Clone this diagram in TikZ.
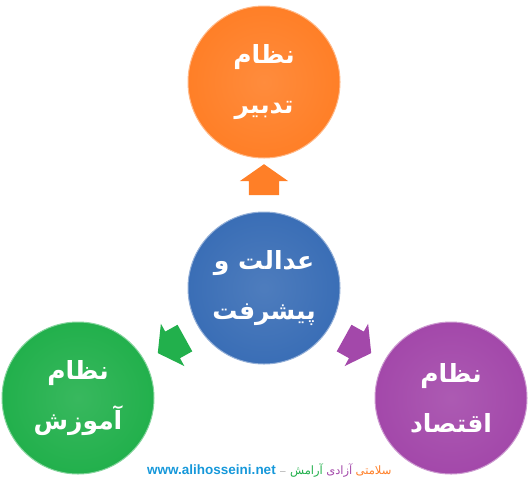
\documentclass[tikz,border=0pt]{standalone}
\usepackage{fontspec}
\usepackage{xcolor}
\usetikzlibrary{shapes,arrows.meta,positioning}
\TeXXeTstate=1
\newfontfamily\fafont[Script=Arabic]{DejaVu Sans}
\setsansfont{Liberation Sans}
\definecolor{tadbircolor}{RGB}{255,127,39}
\definecolor{edalatcolor}{RGB}{58,110,182}
\definecolor{amoozeshcolor}{RGB}{34,176,76}
\definecolor{eghtesadcolor}{RGB}{163,72,170}
\definecolor{sitecolor}{RGB}{22,152,218}

\begin{document}
\begin{tikzpicture}[x=1pt, y=-1pt,
    ball/.style={circle, minimum size=152pt, inner sep=0pt, text=white, align=center,
        inner color=#1!90!white, outer color=#1, draw=#1!55!white, line width=1pt,
        font=\fafont\bfseries\fontsize{25}{50}\selectfont},
    bigarrow/.style={single arrow, minimum width=48pt, minimum height=31pt,
        inner xsep=0pt, inner ysep=15pt,
        single arrow head extend=9pt, single arrow tip angle=110, fill=#1},
    motto/.style={anchor=base west, inner sep=0pt, font=\fafont\fontsize{11.5}{13}\selectfont}
]
\useasboundingbox (0,0) rectangle (529,480);

% circles
\node[ball=tadbircolor] (tadbir) at (264,82) {\beginR نظام\endR\\\beginR تدبیر\endR};
\node[ball=edalatcolor] (edalat) at (264,288) {\beginR عدالت و\endR\\\beginR پیشرفت\endR};
\node[ball=amoozeshcolor] (amoozesh) at (78,398) {\beginR نظام\endR\\\beginR آموزش\endR};
\node[ball=eghtesadcolor] (eghtesad) at (451,398) {\beginR نظام\endR\\\beginR اقتصاد\endR};

% arrows
\node[bigarrow=tadbircolor, rotate=90] (toTadbir) at (264,185) {};
\node[bigarrow=amoozeshcolor, rotate=209] (toAmoozesh) at (176,343) {};
\node[bigarrow=eghtesadcolor, rotate=-29] (toEghtesad) at (353,343) {};

% footer
\node[anchor=base west, inner sep=0pt, text=sitecolor,
      font=\sffamily\bfseries\fontsize{13.5}{15}\selectfont] (site) at (147,474) {www.alihosseini.net};
\node[anchor=base west, inner sep=0pt, text=gray!70, font=\sffamily\fontsize{10}{12}\selectfont]
      (dash) at ([xshift=4pt]site.base east) {--};
\node[motto, text=amoozeshcolor] (aramesh) at ([xshift=4pt]dash.base east) {\beginR آرامش\endR};
\node[motto, text=eghtesadcolor] (azadi) at ([xshift=3pt]aramesh.base east) {\beginR آزادی\endR};
\node[motto, text=tadbircolor] (salamati) at ([xshift=3pt]azadi.base east) {\beginR سلامتی\endR};
\end{tikzpicture}
\end{document}
